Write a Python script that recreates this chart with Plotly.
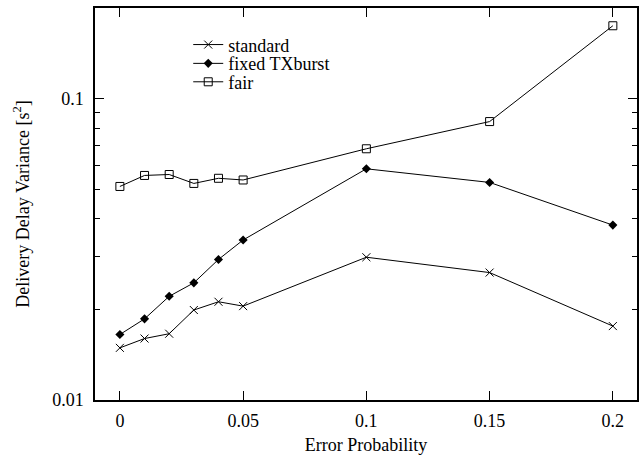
import plotly.graph_objects as go

error_prob = [0, 0.01, 0.02, 0.03, 0.04, 0.05, 0.1, 0.15, 0.2]
standard = [0.0149, 0.0160, 0.0166, 0.0199, 0.0212, 0.0205, 0.0298, 0.0265, 0.0176]
fixed_txburst = [0.0165, 0.0186, 0.0221, 0.0245, 0.0293, 0.0340, 0.0586, 0.0528, 0.0381]
fair = [0.0512, 0.0557, 0.0561, 0.0524, 0.0545, 0.0538, 0.0683, 0.0841, 0.175]

x_ticks = [0, 0.05, 0.1, 0.15, 0.2]
x_ticktext = ["0", "0.05", "0.1", "0.15", "0.2"]
y_ticks = [0.01, 0.1]
y_ticktext = ["0.01", "0.1"]
y_minor = [0.02, 0.03, 0.04, 0.05, 0.06, 0.07, 0.08, 0.09, 0.2]

FONT = "Liberation Serif"
FS = 18

fig = go.Figure()
fig.add_trace(go.Scatter(
    x=error_prob, y=standard, name="standard", mode="lines+markers", legend="legend",
    line=dict(color="black", width=1),
    marker=dict(symbol="x-thin", size=8, line=dict(color="black", width=1), color="black"),
))
fig.add_trace(go.Scatter(
    x=error_prob, y=fixed_txburst, name="fixed TXburst", mode="lines+markers", legend="legend2",
    line=dict(color="black", width=1),
    marker=dict(symbol="diamond", size=7, color="black"),
))
fig.add_trace(go.Scatter(
    x=error_prob, y=fair, name="fair", mode="lines+markers", legend="legend3",
    line=dict(color="black", width=1),
    marker=dict(symbol="square-open", size=8, color="black", line=dict(width=1)),
))

leg_common = dict(
    xanchor="left", yanchor="middle",
    bgcolor="rgba(0,0,0,0)", borderwidth=0,
    font=dict(family=FONT, size=FS, color="black"),
    itemwidth=30,
)

fig.update_layout(
    width=644, height=459,
    margin=dict(l=95, r=5, t=8, b=59),
    paper_bgcolor="white", plot_bgcolor="white",
    font=dict(family=FONT, size=FS, color="black"),
    showlegend=True,
    legend=dict(x=0.172, y=0.906, **leg_common),
    legend2=dict(x=0.172, y=0.858, **leg_common),
    legend3=dict(x=0.172, y=0.811, **leg_common),
)
fig.update_xaxes(
    range=[-0.0101, 0.2098],
    tickvals=x_ticks, ticktext=x_ticktext,
    ticks="inside", ticklen=9, tickwidth=1, tickcolor="black",
    ticklabelstandoff=4,
    showline=True, linecolor="black", linewidth=1.5, mirror="ticks",
    showgrid=False, zeroline=False,
    tickfont=dict(family=FONT, size=FS),
    title=dict(text="Error Probability", font=dict(family=FONT, size=FS), standoff=8),
)
fig.update_yaxes(
    type="log", range=[-2, -0.698],
    tickvals=y_ticks, ticktext=y_ticktext,
    ticks="inside", ticklen=9, tickwidth=1, tickcolor="black",
    ticklabelstandoff=6,
    minor=dict(tickvals=y_minor, ticks="inside", ticklen=5, tickcolor="black", tickwidth=1, showgrid=False),
    showline=True, linecolor="black", linewidth=1.5, mirror="ticks",
    showgrid=False, zeroline=False,
    tickfont=dict(family=FONT, size=FS),
    title=dict(text="Delivery Delay Variance [s<sup>2</sup>]", font=dict(family=FONT, size=FS), standoff=18),
)

fig.write_html("out.html")
